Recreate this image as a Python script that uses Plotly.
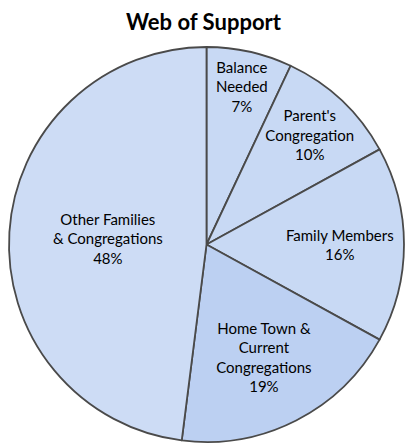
import plotly.graph_objects as go

labels = ["Balance Needed", "Parent's Congregation", "Family Members",
          "Home Town & Current Congregations", "Other Families & Congregations"]
display = ["Balance<br>Needed", "Parent's<br>Congregation", "Family Members",
           "Home Town &<br>Current<br>Congregations", "Other Families<br>& Congregations"]
values = [7, 10, 16, 19, 48]

fig = go.Figure(go.Pie(
    labels=labels,
    values=values,
    customdata=display,
    texttemplate="%{customdata}<br>%{percent:.0%}",
    textposition="inside",
    insidetextorientation="horizontal",
    sort=False,
    direction="clockwise",
    rotation=0,
    marker=dict(colors=["#c8d9f4", "#c8d9f4", "#c8d9f4", "#bcd0f2", "#cddcf5"],
                line=dict(color="#4a4a4a", width=1.8)),
    textfont=dict(family="Lato", size=15, color="#000000"),
    showlegend=False,
    hoverinfo="label+percent",
))

fig.update_layout(
    width=407, height=443,
    margin=dict(l=8, r=2, t=47, b=1),
    paper_bgcolor="white",
    title=dict(text="<b>Web of Support</b>", x=0.5, xanchor="center", y=0.95, yanchor="middle",
               font=dict(family="Lato", size=22, color="#000000")),
    uniformtext=dict(minsize=15, mode="show"),
)

fig.write_html("out.html")
